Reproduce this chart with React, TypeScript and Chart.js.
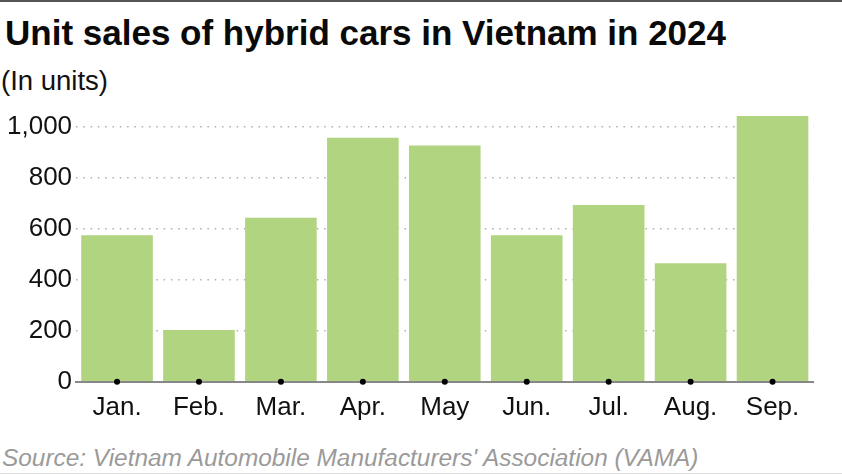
import React, { useEffect, useRef } from 'react';
import { Chart, registerables } from 'chart.js';

Chart.register(...registerables);

const titleText = 'Unit sales of hybrid cars in Vietnam in 2024';
const subtitleText = '(In units)';
const sourceText = "Source: Vietnam Automobile Manufacturers' Association (VAMA)";

const categories = ['Jan.', 'Feb.', 'Mar.', 'Apr.', 'May', 'Jun.', 'Jul.', 'Aug.', 'Sep.'];
const unitSales = [575, 203, 644, 958, 928, 575, 694, 465, 1043];
const axisDots = [0, 0, 0, 0, 0, 0, 0, 0, 0];
const yTickValues = [0, 200, 400, 600, 800, 1000];
const yMax = 1100;

const FONT = '"Liberation Sans", Arial, Helvetica, sans-serif';

export default function App() {
  const canvasRef = useRef<HTMLCanvasElement | null>(null);

  useEffect(() => {
    const canvas = canvasRef.current;
    if (!canvas) return;
    Chart.defaults.font.family = FONT;
    const chart = new Chart(canvas, {
      type: 'bar',
      data: {
        labels: categories,
        datasets: [
          {
            type: 'line',
            data: axisDots,
            showLine: false,
            pointRadius: 3,
            pointHoverRadius: 3,
            pointBackgroundColor: '#000',
            pointBorderWidth: 0,
            borderColor: '#000',
            clip: false,
            order: 0,
          } as any,
          {
            type: 'bar',
            data: unitSales,
            backgroundColor: '#b1d480',
            borderWidth: 0,
            categoryPercentage: 1,
            barPercentage: 0.874,
            order: 1,
          },
        ],
      },
      options: {
        responsive: false,
        animation: false,
        layout: { padding: { top: 11, bottom: 8, left: 3, right: 28.5 } },
        plugins: {
          legend: { display: false },
          tooltip: { enabled: false },
          title: { display: false },
        },
        scales: {
          x: {
            offset: true,
            grid: { display: false, drawTicks: false },
            border: { display: true, color: '#888', width: 2 },
            ticks: {
              color: '#111',
              padding: 10,
              font: { size: 26, family: FONT },
            },
          },
          y: {
            min: 0,
            max: yMax,
            z: 1,
            afterBuildTicks: (axis: any) => {
              axis.ticks = yTickValues.map((v) => ({ value: v }));
            },
            grid: {
              color: (ctx: any) => (ctx.tick && ctx.tick.value === 0 ? 'rgba(0,0,0,0)' : '#b0b0b0'),
              lineWidth: 1.5,
              drawTicks: false,
            },
            border: { display: false, dash: [1.5, 5.8] },
            ticks: {
              color: '#111',
              padding: 4,
              font: { size: 26, family: FONT },
              callback: (v: any) => Number(v).toLocaleString('en-US'),
            },
          },
        },
      },
    });
    return () => chart.destroy();
  }, []);

  return (
    <div
      style={{
        position: 'absolute',
        left: 0,
        top: 0,
        width: 842,
        height: 474,
        background: '#fff',
        overflow: 'hidden',
        fontFamily: FONT,
      }}
    >
      <div style={{ position: 'absolute', left: 0, top: 0, width: 842, height: 2, background: '#555' }} />
      <div
        style={{
          position: 'absolute',
          left: 5,
          top: 14.7,
          fontSize: 35,
          lineHeight: '35px',
          fontWeight: 'bold',
          color: '#0a0a0a',
          whiteSpace: 'nowrap',
        }}
      >
        {titleText}
      </div>
      <div
        style={{
          position: 'absolute',
          left: 1,
          top: 67,
          fontSize: 27.5,
          lineHeight: '27.5px',
          color: '#111',
          whiteSpace: 'nowrap',
        }}
      >
        {subtitleText}
      </div>
      <div style={{ position: 'absolute', left: 0, top: 82, width: 842, height: 359 }}>
        <canvas ref={canvasRef} width={842} height={359} style={{ display: 'block' }} />
      </div>
      <div
        style={{
          position: 'absolute',
          left: 2,
          top: 445.5,
          fontSize: 24.4,
          lineHeight: '24.4px',
          fontStyle: 'italic',
          color: '#9a9a9a',
          whiteSpace: 'nowrap',
        }}
      >
        {sourceText}
      </div>
      <div style={{ position: 'absolute', left: 0, top: 473, width: 842, height: 1, background: '#ddd' }} />
    </div>
  );
}
